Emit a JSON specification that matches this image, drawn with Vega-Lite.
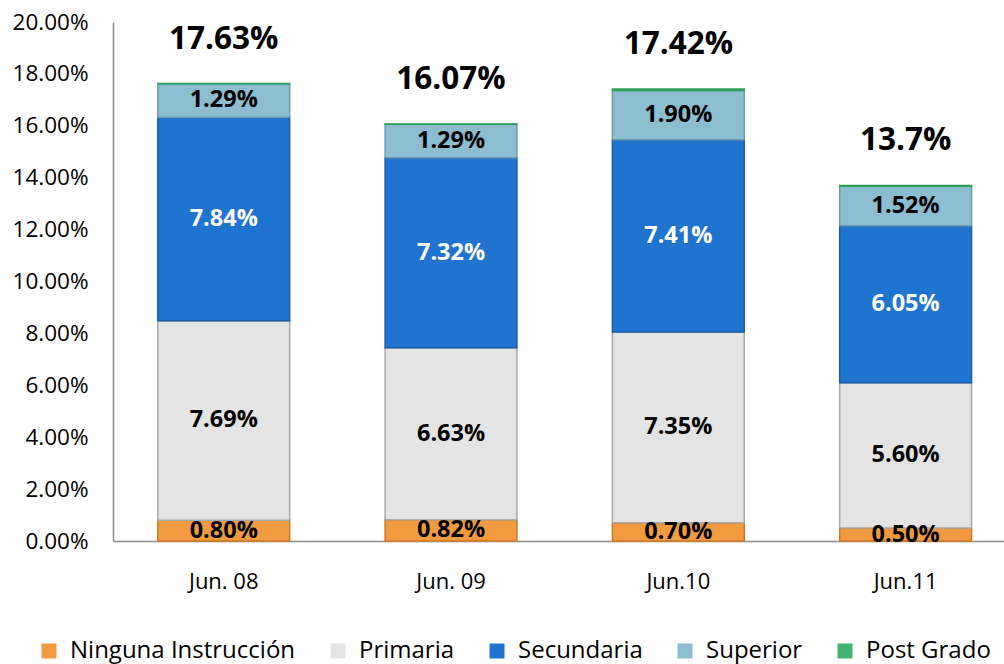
{
  "$schema": "https://vega.github.io/schema/vega-lite/v6.json",
  "width": 891,
  "height": 519,
  "autosize": {"type": "none"},
  "padding": {"left": 113, "top": 22, "right": 0, "bottom": 123},
  "background": "white",
  "config": {
    "view": {"stroke": null},
    "font": "Open Sans",
    "axis": {"grid": false, "ticks": false, "domainColor": "#8c8c8c", "domainWidth": 1.5, "labelColor": "#000000", "title": null}
  },
  "datasets": {
    "seg": [
      {"mes": "Jun. 08", "nivel": "Ninguna Instrucción", "orden": 1, "v": 0.0080},
      {"mes": "Jun. 08", "nivel": "Primaria", "orden": 2, "v": 0.0769},
      {"mes": "Jun. 08", "nivel": "Secundaria", "orden": 3, "v": 0.0784},
      {"mes": "Jun. 08", "nivel": "Superior", "orden": 4, "v": 0.0129},
      {"mes": "Jun. 08", "nivel": "Post Grado", "orden": 5, "v": 0.0001},
      {"mes": "Jun. 09", "nivel": "Ninguna Instrucción", "orden": 1, "v": 0.0082},
      {"mes": "Jun. 09", "nivel": "Primaria", "orden": 2, "v": 0.0663},
      {"mes": "Jun. 09", "nivel": "Secundaria", "orden": 3, "v": 0.0732},
      {"mes": "Jun. 09", "nivel": "Superior", "orden": 4, "v": 0.0129},
      {"mes": "Jun. 09", "nivel": "Post Grado", "orden": 5, "v": 0.0001},
      {"mes": "Jun.10", "nivel": "Ninguna Instrucción", "orden": 1, "v": 0.0070},
      {"mes": "Jun.10", "nivel": "Primaria", "orden": 2, "v": 0.0735},
      {"mes": "Jun.10", "nivel": "Secundaria", "orden": 3, "v": 0.0741},
      {"mes": "Jun.10", "nivel": "Superior", "orden": 4, "v": 0.0190},
      {"mes": "Jun.10", "nivel": "Post Grado", "orden": 5, "v": 0.0006},
      {"mes": "Jun.11", "nivel": "Ninguna Instrucción", "orden": 1, "v": 0.0050},
      {"mes": "Jun.11", "nivel": "Primaria", "orden": 2, "v": 0.0560},
      {"mes": "Jun.11", "nivel": "Secundaria", "orden": 3, "v": 0.0605},
      {"mes": "Jun.11", "nivel": "Superior", "orden": 4, "v": 0.0152},
      {"mes": "Jun.11", "nivel": "Post Grado", "orden": 5, "v": 0.0003}
    ],
    "tot": [
      {"mes": "Jun. 08", "total": 0.1763, "label": "17.63%"},
      {"mes": "Jun. 09", "total": 0.1607, "label": "16.07%"},
      {"mes": "Jun.10", "total": 0.1742, "label": "17.42%"},
      {"mes": "Jun.11", "total": 0.137, "label": "13.7%"}
    ]
  },
  "encoding": {
    "x": {
      "field": "mes",
      "type": "nominal",
      "sort": ["Jun. 08", "Jun. 09", "Jun.10", "Jun.11"],
      "scale": {"paddingInner": 0.42, "paddingOuter": 0.17, "align": 0.58},
      "axis": {"labelAngle": 0, "labelFontSize": 22, "labelPadding": 30}
    }
  },
  "layer": [
    {
      "data": {"name": "seg"},
      "mark": {"type": "bar", "strokeWidth": 1.5},
      "encoding": {
        "y": {
          "field": "v",
          "type": "quantitative",
          "stack": "zero",
          "scale": {"domain": [0, 0.2]},
          "axis": {"format": ".2%", "values": [0, 0.02, 0.04, 0.06, 0.08, 0.1, 0.12, 0.14, 0.16, 0.18, 0.2], "labelFontSize": 22.5, "labelPadding": 25}
        },
        "color": {
          "field": "nivel",
          "type": "nominal",
          "scale": {
            "domain": ["Ninguna Instrucción", "Primaria", "Secundaria", "Superior", "Post Grado"],
            "range": ["#F29A40", "#E4E4E4", "#1F74D0", "#8DBDD1", "#3DB36E"]
          },
          "legend": {
            "title": null,
            "orient": "none",
            "direction": "horizontal",
            "legendX": -76,
            "legendY": 617,
            "symbolType": "square",
            "symbolSize": 225,
            "symbolStrokeWidth": 0,
            "symbolOpacity": 1,
            "labelFontSize": 24,
            "labelColor": "#000000",
            "labelOffset": 9,
            "columnPadding": 30,
            "labelLimit": 400
          }
        },
        "stroke": {
          "field": "nivel",
          "type": "nominal",
          "scale": {
            "domain": ["Ninguna Instrucción", "Primaria", "Secundaria", "Superior", "Post Grado"],
            "range": ["#D07A20", "#A8A8A8", "#1A5CA8", "#6E9AAE", "#2E9E5B"]
          },
          "legend": null
        },
        "order": {"field": "orden", "type": "quantitative"}
      }
    },
    {
      "data": {"name": "seg"},
      "transform": [
        {"stack": "v", "groupby": ["mes"], "sort": [{"field": "orden", "order": "ascending"}], "as": ["y0", "y1"]},
        {"calculate": "(datum.y0 + datum.y1) / 2", "as": "ym"},
        {"filter": "datum.nivel != 'Post Grado'"}
      ],
      "mark": {"type": "text", "fontWeight": "bold", "fontSize": 23.5, "baseline": "middle"},
      "encoding": {
        "y": {"field": "ym", "type": "quantitative"},
        "text": {"field": "v", "type": "quantitative", "format": ".2%"},
        "color": {"condition": {"test": "datum.nivel == 'Secundaria'", "value": "#ffffff"}, "value": "#000000"}
      }
    },
    {
      "data": {"name": "tot"},
      "mark": {"type": "text", "fontWeight": "bold", "fontSize": 31.5, "baseline": "middle", "dy": -44, "color": "#000000"},
      "encoding": {
        "y": {"field": "total", "type": "quantitative"},
        "text": {"field": "label"}
      }
    }
  ]
}
